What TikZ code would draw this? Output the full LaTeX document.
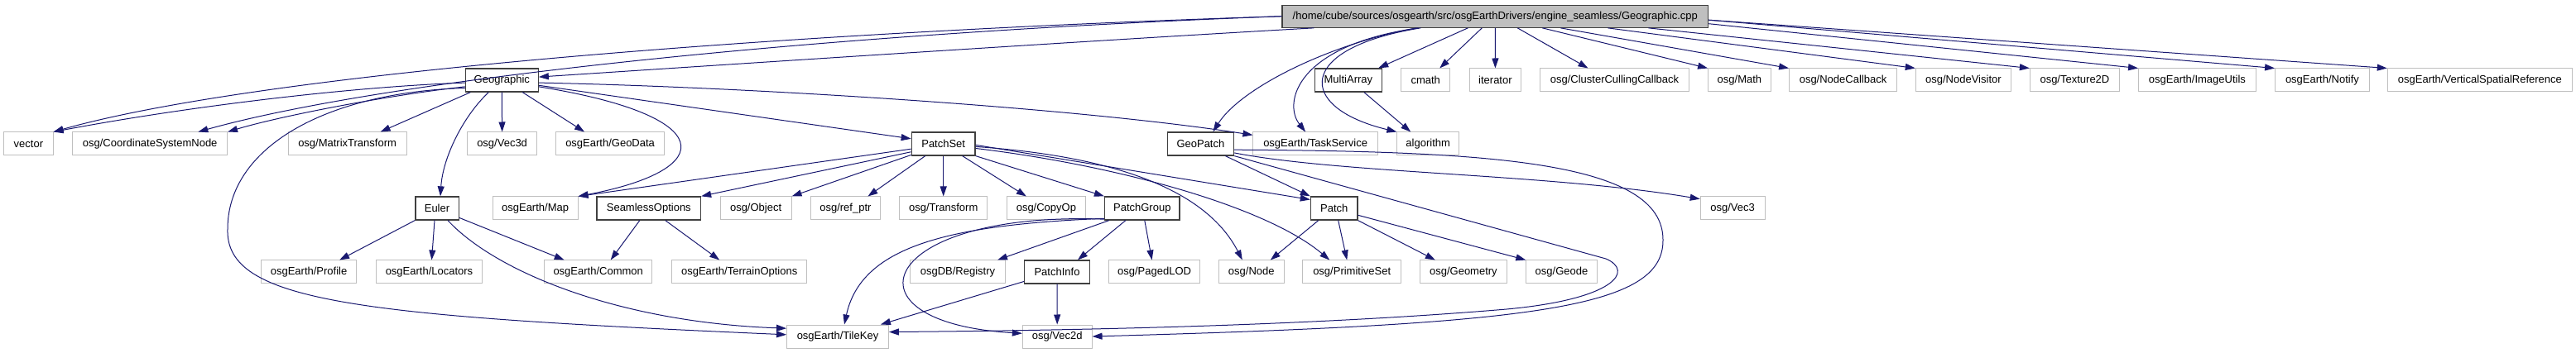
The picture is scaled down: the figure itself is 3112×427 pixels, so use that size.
\documentclass[tikz,border=0pt]{standalone}
\usepackage{fontspec}
\setmainfont{Liberation Sans}
\usetikzlibrary{arrows.meta}
\definecolor{edgeblue}{HTML}{191970}
\definecolor{boxgray}{HTML}{BFBFBF}
\definecolor{boxdark}{HTML}{404040}
\definecolor{topfill}{HTML}{BFBFBF}
\begin{document}
\begin{tikzpicture}[x=1pt,y=-1pt,
  lbl/.style={rectangle, inner sep=0pt, minimum height=28pt, font=\fontsize{13}{15}\selectfont, text=black},
  ext/.style={lbl, draw=boxgray, line width=1pt},
  doc/.style={lbl, draw=boxdark, line width=1.3pt},
  dep/.style={draw=edgeblue, line width=1pt, -{Triangle[length=12pt,width=8pt]}}]
\useasboundingbox (0,0) rectangle (3112,427);
% row 1
\node[doc, fill=topfill, minimum width=514.5pt, minimum height=27pt] (ntop) at (1806.3,19.7) {/home/cube/sources/osgearth/src/osgEarthDrivers/engine\_seamless/Geographic.cpp};
% row 2
\node[doc, minimum width=87.8pt] (ngeo) at (606.3,97) {Geographic};
\node[doc, minimum width=81.3pt] (nmulti) at (1628.9,97) {MultiArray};
\node[ext, minimum width=58.6pt] (ncmath) at (1722.2,97) {cmath};
\node[ext, minimum width=62.4pt] (niter) at (1806.4,97) {iterator};
\node[ext, minimum width=179.8pt] (nccc) at (1950.5,97) {osg/ClusterCullingCallback};
\node[ext, minimum width=75.7pt] (nmath) at (2101.4,97) {osg/Math};
\node[ext, minimum width=129.9pt] (nncb) at (2226.5,97) {osg/NodeCallback};
\node[ext, minimum width=115.3pt] (nnv) at (2371.9,97) {osg/NodeVisitor};
\node[ext, minimum width=108.1pt] (ntex) at (2506.4,97) {osg/Texture2D};
\node[ext, minimum width=141.7pt] (nimu) at (2654.4,97) {osgEarth/ImageUtils};
\node[ext, minimum width=113.7pt] (nnotify) at (2805.4,97) {osgEarth/Notify};
\node[ext, minimum width=223.3pt] (nvsr) at (2995.9,97) {osgEarth/VerticalSpatialReference};
% row 3
\node[ext, minimum width=59.3pt] (nvector) at (34.4,174) {vector};
\node[ext, minimum width=186.7pt] (ncsn) at (181.2,174) {osg/CoordinateSystemNode};
\node[ext, minimum width=142.9pt] (nmt) at (419.6,174) {osg/MatrixTransform};
\node[ext, minimum width=84.4pt] (nvecthreed) at (606.6,174) {osg/Vec3d};
\node[ext, minimum width=131.2pt] (ngeodata) at (737.1,174) {osgEarth/GeoData};
\node[doc, minimum width=76.8pt] (nps) at (1139.7,174) {PatchSet};
\node[doc, minimum width=80.3pt] (ngp) at (1450.4,174) {GeoPatch};
\node[ext, minimum width=150.4pt] (ntask) at (1589.1,174) {osgEarth/TaskService};
\node[ext, minimum width=74.7pt] (nalgo) at (1725.2,174) {algorithm};
% row 4
\node[doc, minimum width=52.3pt] (neuler) at (528,252) {Euler};
\node[ext, minimum width=102.9pt] (nmap) at (646.6,252) {osgEarth/Map};
\node[doc, minimum width=125.4pt] (nseam) at (783.8,252) {SeamlessOptions};
\node[ext, minimum width=85.8pt] (nobject) at (913.1,252) {osg/Object};
\node[ext, minimum width=84pt] (nrefptr) at (1021.4,252) {osg/ref\_ptr};
\node[ext, minimum width=106.4pt] (ntransform) at (1139.7,252) {osg/Transform};
\node[ext, minimum width=95.1pt] (ncopyop) at (1263.9,252) {osg/CopyOp};
\node[doc, minimum width=90.5pt] (npg) at (1379.8,252) {PatchGroup};
\node[doc, minimum width=56.5pt] (npatch) at (1611.7,252) {Patch};
\node[ext, minimum width=77.8pt] (nvecthree) at (2093.1,252) {osg/Vec3};
% row 5
\node[ext, minimum width=114.7pt] (nprofile) at (373.1,329) {osgEarth/Profile};
\node[ext, minimum width=127.7pt] (nlocators) at (518.5,329) {osgEarth/Locators};
\node[ext, minimum width=130.5pt] (ncommon) at (722.7,329) {osgEarth/Common};
\node[ext, minimum width=162.9pt] (nterrain) at (893.2,329) {osgEarth/TerrainOptions};
\node[ext, minimum width=114.7pt] (nregistry) at (1157,329) {osgDB/Registry};
\node[doc, minimum width=78.5pt] (npinfo) at (1277,329) {PatchInfo};
\node[ext, minimum width=110.5pt] (npaged) at (1394.6,329) {osg/PagedLOD};
\node[ext, minimum width=79.2pt] (nosgnode) at (1511.8,329) {osg/Node};
\node[ext, minimum width=118.8pt] (nprim) at (1633.2,329) {osg/PrimitiveSet};
\node[ext, minimum width=104.3pt] (ngeometry) at (1767.9,329) {osg/Geometry};
\node[ext, minimum width=85.4pt] (ngeode) at (1886.5,329) {osg/Geode};
% row 6
\node[ext, minimum width=122.9pt] (ntilekey) at (1012,407) {osgEarth/TileKey};
\node[ext, minimum width=83.7pt] (nvectwod) at (1277.2,407) {osg/Vec2d};
% edges from the top file
\draw[dep] (ntop.west) .. controls (920,40) and (310,90) .. (nvector.north east);
\draw[dep] (ntop.west) .. controls (1000,40) and (470,95) .. (ncsn.14);
\draw[dep] ([xshift=-219pt]ntop.south) .. controls (1300,50) and (820,82) .. (ngeo.5);
\draw[dep] ([xshift=-95pt]ntop.south) .. controls (1610,52) and (1500,105) .. ([xshift=15pt]ngp.north);
\draw[dep] ([xshift=-93pt]ntop.south) .. controls (1565,55) and (1550,125) .. ([xshift=-12pt]ntask.north);
\draw[dep] ([xshift=-90pt]ntop.south) .. controls (1565,58) and (1565,130) .. (nalgo.north west);
\draw[dep] ([xshift=-33pt]ntop.south) -- ([xshift=-5pt]nmulti.north east);
\draw[dep] ([xshift=-16pt]ntop.south) -- ([xshift=17pt]ncmath.north);
\draw[dep] (ntop.south) -- (niter.north);
\draw[dep] ([xshift=27pt]ntop.south) -- ([xshift=-32pt]nccc.north);
\draw[dep] ([xshift=57pt]ntop.south) -- (nmath.north west);
\draw[dep] ([xshift=79pt]ntop.south) -- (nncb.north west);
\draw[dep] ([xshift=136pt]ntop.south) -- (nnv.north west);
\draw[dep] ([xshift=185pt]ntop.south) -- (ntex.north west);
\draw[dep] (ntop.-2.6) -- (nimu.north west);
\draw[dep] (ntop.-1.9) -- (nnotify.north west);
\draw[dep] (ntop.-1.3) -- (nvsr.north west);
% Geographic
\draw[dep] (ngeo.184) .. controls (420,105) and (220,130) .. (nvector.north east);
\draw[dep] (ngeo.190) .. controls (470,115) and (340,140) .. (ncsn.north east);
\draw[dep] ([xshift=-38pt]ngeo.south) -- ([xshift=40pt]nmt.north);
\draw[dep] ([xshift=-16pt]ngeo.south) .. controls (560,140) and (535,190) .. ([xshift=4pt]neuler.north);
\draw[dep] (ngeo.south) -- (nvecthreed.north);
\draw[dep] ([xshift=25pt]ngeo.south) -- ([xshift=-31pt]ngeodata.north);
\draw[dep] (ngeo.-10) .. controls (869,140) and (869,205) .. (nmap.north east);
\draw[dep] (ngeo.-8) -- (nps.171);
\draw[dep] (ngeo.-4) .. controls (900,105) and (1300,130) .. (ntask.172);
\draw[dep] (ngeo.192) .. controls (390,112) and (275,180) .. (275,277) .. controls (272,365) and (430,382) .. (ntilekey.178);
% Euler
\draw[dep] (neuler.south west) -- ([xshift=37pt]nprofile.north);
\draw[dep] ([xshift=-3pt]neuler.south) -- ([xshift=3pt]nlocators.north);
\draw[dep] (neuler.-23) -- ([xshift=-41pt]ncommon.north);
\draw[dep] ([xshift=13pt]neuler.south) .. controls (600,330) and (750,390) .. (ntilekey.171);
% SeamlessOptions
\draw[dep] ([xshift=-11pt]nseam.south) -- ([xshift=15pt]ncommon.north);
\draw[dep] ([xshift=20pt]nseam.south) -- ([xshift=-24pt]nterrain.north);
% PatchSet
\draw[dep] (nps.189) -- (nmap.north east);
\draw[dep] (nps.194) -- (nseam.north east);
\draw[dep] (nps.199) -- (nobject.north east);
\draw[dep] ([xshift=-22pt]nps.south) -- ([xshift=27pt]nrefptr.north);
\draw[dep] (nps.south) -- (ntransform.north);
\draw[dep] ([xshift=23pt]nps.south) -- ([xshift=-24pt]ncopyop.north);
\draw[dep] (nps.south east) -- (npg.north west);
\draw[dep] (nps.-5) .. controls (1360,190) and (1460,235) .. ([xshift=-11pt]nosgnode.north);
\draw[dep] (nps.-2) -- (npatch.160);
\draw[dep] (nps.-8) .. controls (1350,200) and (1530,250) .. ([xshift=-27pt]nprim.north);
% PatchGroup
\draw[dep] ([xshift=-40pt]npg.south) -- ([xshift=48pt]nregistry.north);
\draw[dep] ([xshift=-20pt]npg.south) -- ([xshift=25pt]npinfo.north);
\draw[dep] ([xshift=3pt]npg.south) -- ([xshift=-3pt]npaged.north);
\draw[dep] (npg.195) .. controls (1140,272) and (1040,300) .. ([xshift=8pt]ntilekey.north);
\draw[dep] (npg.196) .. controls (1060,255) and (1010,390) .. (nvectwod.175);
% PatchInfo
\draw[dep] (npinfo.196) -- ([xshift=-10pt]ntilekey.north east);
\draw[dep] (npinfo.south) -- (nvectwod.north);
% Patch
\draw[dep] ([xshift=-19pt]npatch.south) -- ([xshift=23pt]nosgnode.north);
\draw[dep] ([xshift=5pt]npatch.south) -- ([xshift=-6pt]nprim.north);
\draw[dep] (npatch.south east) -- ([xshift=-34pt]ngeometry.north);
\draw[dep] (npatch.-16) -- (ngeode.north west);
% GeoPatch
\draw[dep] ([xshift=30pt]ngp.south) -- (npatch.north west);
\draw[dep] (ngp.-15) .. controls (1620,210) and (1870,210) .. (nvecthree.164);
\draw[dep] (ngp.-10) .. controls (1800,183) and (2009,195) .. (2009,290) .. controls (2010,372) and (1860,392) .. (nvectwod.east);
\draw[dep] (ngp.south east) -- (1940,313) .. controls (1975,328) and (1950,362) .. (1820,374) .. controls (1560,396) and (1250,400) .. (ntilekey.5);
% MultiArray
\draw[dep] ([xshift=19pt]nmulti.south) -- ([xshift=-21pt]nalgo.north);
\end{tikzpicture}
\end{document}
